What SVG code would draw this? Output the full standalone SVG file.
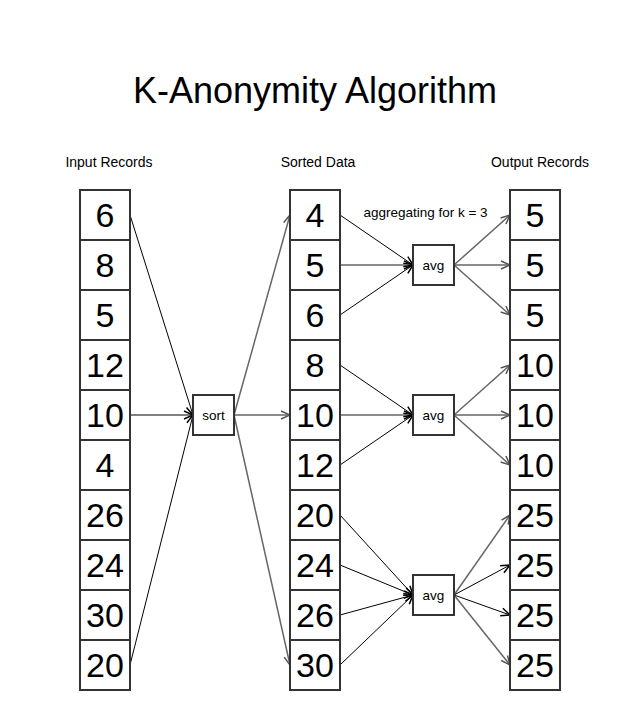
<svg xmlns="http://www.w3.org/2000/svg" width="632" height="710" viewBox="0 0 632 710">
<style>
text{font-family:"Liberation Sans",Arial,sans-serif;fill:#000}
.cell{fill:#fff;stroke:#333;stroke-width:2}
.num{font-size:34px;text-anchor:middle}
.lbl{font-size:14px;text-anchor:middle}
.op{fill:#fff;stroke:#333;stroke-width:2}
.opt{font-size:13.5px;text-anchor:middle}
.k{stroke:#000;stroke-width:1;fill:none}
.g{stroke:#666;stroke-width:1.5;fill:none}
</style>
<defs>
<marker id="ak" viewBox="0 0 10 10" refX="10" refY="5" markerWidth="10" markerHeight="10" markerUnits="userSpaceOnUse" orient="auto"><path d="M1,1 L10,5 L1,9" fill="none" stroke="#000" stroke-width="1.5"/></marker>
<marker id="ag" viewBox="0 0 10 10" refX="10" refY="5" markerWidth="10" markerHeight="10" markerUnits="userSpaceOnUse" orient="auto"><path d="M1,1 L10,5 L1,9" fill="none" stroke="#555" stroke-width="1.5"/></marker>
</defs>
<rect width="632" height="710" fill="#fff"/>
<text x="315" y="103" font-size="36" text-anchor="middle">K-Anonymity Algorithm</text>
<text class="lbl" x="109" y="167">Input Records</text>
<text class="lbl" x="318" y="167">Sorted Data</text>
<text class="lbl" x="540" y="167">Output Records</text>
<text x="425.5" y="217" font-size="13.5" text-anchor="middle">aggregating for k = 3</text>

<g id="connectors">
<line class="k" x1="130" y1="215" x2="193" y2="415" marker-end="url(#ak)"/>
<line class="k" x1="130" y1="415" x2="193" y2="415" marker-end="url(#ak)"/>
<line class="k" x1="130" y1="665" x2="193" y2="415" marker-end="url(#ak)"/>
<line class="g" x1="234" y1="415" x2="290" y2="215" marker-end="url(#ag)"/>
<line class="g" x1="234" y1="415" x2="290" y2="415" marker-end="url(#ag)"/>
<line class="g" x1="234" y1="415" x2="290" y2="665" marker-end="url(#ag)"/>
<line class="k" x1="340" y1="215" x2="413" y2="265" marker-end="url(#ak)"/>
<line class="g" x1="340" y1="265" x2="413" y2="265" marker-end="url(#ak)"/>
<line class="k" x1="340" y1="315" x2="413" y2="265" marker-end="url(#ak)"/>
<line class="k" x1="340" y1="365" x2="413" y2="415" marker-end="url(#ak)"/>
<line class="g" x1="340" y1="415" x2="413" y2="415" marker-end="url(#ak)"/>
<line class="k" x1="340" y1="465" x2="413" y2="415" marker-end="url(#ak)"/>
<line class="k" x1="340" y1="515" x2="413" y2="595" marker-end="url(#ak)"/>
<line class="k" x1="340" y1="565" x2="413" y2="595" marker-end="url(#ak)" stroke-width="1.3"/>
<line class="k" x1="340" y1="615" x2="413" y2="595" marker-end="url(#ak)" stroke-width="1.3"/>
<line class="k" x1="340" y1="665" x2="413" y2="595" marker-end="url(#ak)"/>
<line class="g" x1="454" y1="265" x2="510" y2="215" marker-end="url(#ag)"/>
<line class="g" x1="454" y1="265" x2="510" y2="265" marker-end="url(#ag)"/>
<line class="g" x1="454" y1="265" x2="510" y2="315" marker-end="url(#ag)"/>
<line class="g" x1="454" y1="415" x2="510" y2="365" marker-end="url(#ag)"/>
<line class="g" x1="454" y1="415" x2="510" y2="415" marker-end="url(#ag)"/>
<line class="g" x1="454" y1="415" x2="510" y2="465" marker-end="url(#ag)"/>
<line class="g" x1="454" y1="595" x2="510" y2="515" marker-end="url(#ag)"/>
<line class="k" x1="454" y1="595" x2="510" y2="565" marker-end="url(#ak)"/>
<line class="k" x1="454" y1="595" x2="510" y2="615" marker-end="url(#ak)"/>
<line class="g" x1="454" y1="595" x2="510" y2="665" marker-end="url(#ag)"/>
</g>

<g id="input">
<rect class="cell" x="80" y="190" width="50" height="50"/><text class="num" x="105" y="227">6</text>
<rect class="cell" x="80" y="240" width="50" height="50"/><text class="num" x="105" y="277">8</text>
<rect class="cell" x="80" y="290" width="50" height="50"/><text class="num" x="105" y="327">5</text>
<rect class="cell" x="80" y="340" width="50" height="50"/><text class="num" x="105" y="377">12</text>
<rect class="cell" x="80" y="390" width="50" height="50"/><text class="num" x="105" y="427">10</text>
<rect class="cell" x="80" y="440" width="50" height="50"/><text class="num" x="105" y="477">4</text>
<rect class="cell" x="80" y="490" width="50" height="50"/><text class="num" x="105" y="527">26</text>
<rect class="cell" x="80" y="540" width="50" height="50"/><text class="num" x="105" y="577">24</text>
<rect class="cell" x="80" y="590" width="50" height="50"/><text class="num" x="105" y="627">30</text>
<rect class="cell" x="80" y="640" width="50" height="50"/><text class="num" x="105" y="677">20</text>
</g>

<g id="sort">
<rect class="op" x="193" y="395" width="41" height="40"/><text class="opt" x="213.5" y="420">sort</text>
</g>

<g id="sorted">
<rect class="cell" x="290" y="190" width="50" height="50"/><text class="num" x="315" y="227">4</text>
<rect class="cell" x="290" y="240" width="50" height="50"/><text class="num" x="315" y="277">5</text>
<rect class="cell" x="290" y="290" width="50" height="50"/><text class="num" x="315" y="327">6</text>
<rect class="cell" x="290" y="340" width="50" height="50"/><text class="num" x="315" y="377">8</text>
<rect class="cell" x="290" y="390" width="50" height="50"/><text class="num" x="315" y="427">10</text>
<rect class="cell" x="290" y="440" width="50" height="50"/><text class="num" x="315" y="477">12</text>
<rect class="cell" x="290" y="490" width="50" height="50"/><text class="num" x="315" y="527">20</text>
<rect class="cell" x="290" y="540" width="50" height="50"/><text class="num" x="315" y="577">24</text>
<rect class="cell" x="290" y="590" width="50" height="50"/><text class="num" x="315" y="627">26</text>
<rect class="cell" x="290" y="640" width="50" height="50"/><text class="num" x="315" y="677">30</text>
</g>

<g id="avg1"><rect class="op" x="413" y="245" width="41" height="40"/><text class="opt" x="433.5" y="270">avg</text></g>
<g id="avg2"><rect class="op" x="413" y="395" width="41" height="40"/><text class="opt" x="433.5" y="420">avg</text></g>
<g id="avg3"><rect class="op" x="413" y="575" width="41" height="40"/><text class="opt" x="433.5" y="600">avg</text></g>

<g id="output">
<rect class="cell" x="510" y="190" width="50" height="50"/><text class="num" x="535" y="227">5</text>
<rect class="cell" x="510" y="240" width="50" height="50"/><text class="num" x="535" y="277">5</text>
<rect class="cell" x="510" y="290" width="50" height="50"/><text class="num" x="535" y="327">5</text>
<rect class="cell" x="510" y="340" width="50" height="50"/><text class="num" x="535" y="377">10</text>
<rect class="cell" x="510" y="390" width="50" height="50"/><text class="num" x="535" y="427">10</text>
<rect class="cell" x="510" y="440" width="50" height="50"/><text class="num" x="535" y="477">10</text>
<rect class="cell" x="510" y="490" width="50" height="50"/><text class="num" x="535" y="527">25</text>
<rect class="cell" x="510" y="540" width="50" height="50"/><text class="num" x="535" y="577">25</text>
<rect class="cell" x="510" y="590" width="50" height="50"/><text class="num" x="535" y="627">25</text>
<rect class="cell" x="510" y="640" width="50" height="50"/><text class="num" x="535" y="677">25</text>
</g>
</svg>
